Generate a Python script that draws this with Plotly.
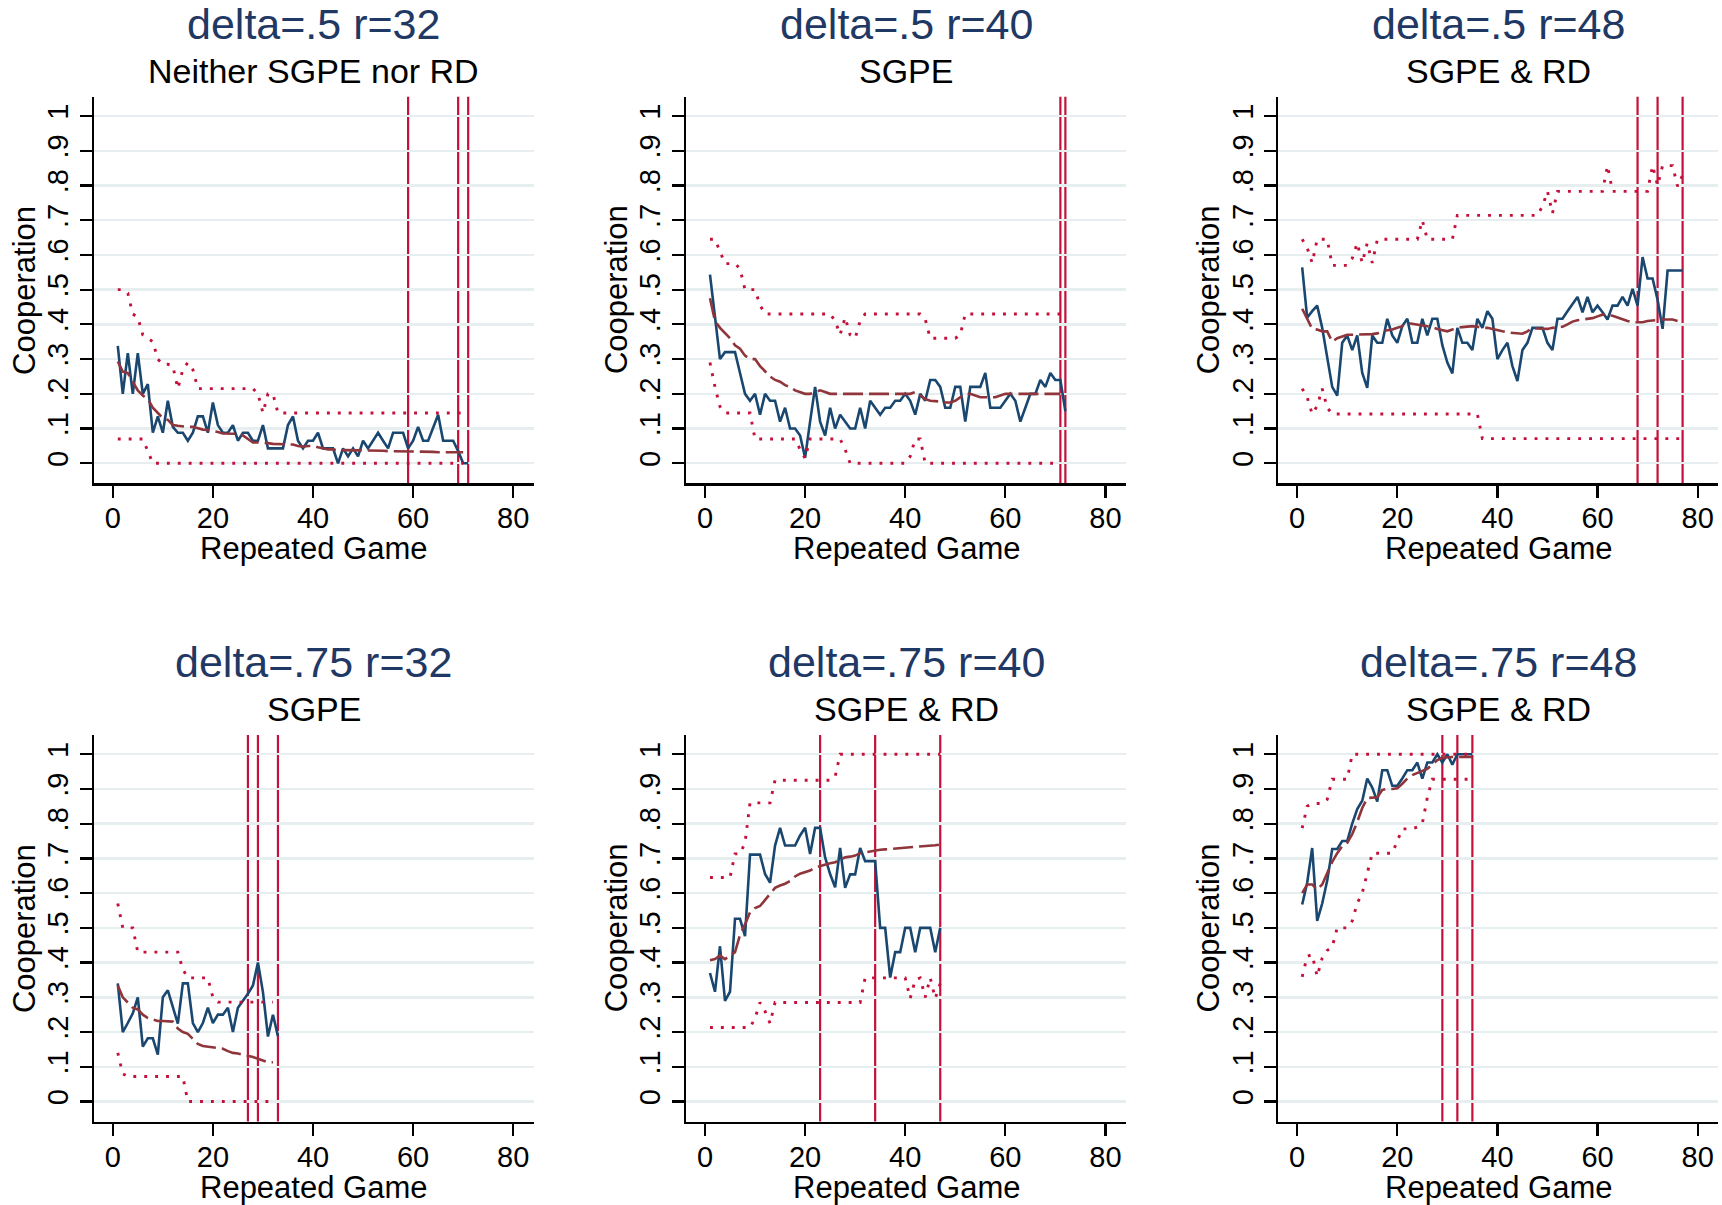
import plotly.graph_objects as go

# ---------------- data ----------------
titles = ["delta=.5 r=32", "delta=.5 r=40", "delta=.5 r=48",
          "delta=.75 r=32", "delta=.75 r=40", "delta=.75 r=48"]
subtitles = ["Neither SGPE nor RD", "SGPE", "SGPE & RD",
             "SGPE", "SGPE & RD", "SGPE & RD"]
y_tickvals = [0, 0.1, 0.2, 0.3, 0.4, 0.5, 0.6, 0.7, 0.8, 0.9, 1]
y_ticktext = ["0", ".1", ".2", ".3", ".4", ".5", ".6", ".7", ".8", ".9", "1"]
x_tickvals = [0, 20, 40, 60, 80]

# panel 1: delta=.5 r=32
p1_coop = [.338, .20, .317, .20, .317, .20, .228, .088, .135, .088,
           .18, .105, .088, .088, .065, .088, .135, .135, .088, .175,
           .11, .088, .088, .11, .065, .088, .088, .065, .065, .11,
           .043, .043, .043, .043, .11, .135, .065, .043, .065, .065,
           .088, .043, .043, .043, 0, .043, .02, .043, .02, .065,
           .043, .065, .088, .065, .043, .088, .088, .088, .043, .065,
           .105, .065, .065, .105, .14, .065, .065, .065, .035, 0, 0]
p1_fit = [.293, .264, .26, .235, .21, .195, .185, .16, .145, .13,
          .125, .11, .108, .106, .105, .105, .1, .097, .096, .094,
          .09, .086, .085, .085, .085, .08, .07, .06, .06, .06,
          .058, .056, .055, .055, .055, .054, .05, .048, .05, .05,
          .046, .042, .04, .04, .037, .038, .038, .038, .037, .037,
          .037, .037, .037, .036, .035, .035, .034, .034, .034, .034,
          .034, .034, .033, .033, .032, .032, .032, .032, .032, .032]
p1_upper = [.5, .5, .49, .43, .42, .37, .36, .35, .3, .285,
            .285, .28, .215, .27, .29, .27, .215, .215, .215, .215,
            .215, .215, .215, .215, .215, .215, .215, .215, .2, .145,
            .2, .2, .145, .145, .145, .145, .145, .145, .145, .145,
            .145, .145, .145, .145, .145, .145, .145, .145, .145, .145,
            .145, .145, .145, .145, .145, .145, .145, .145, .145, .145,
            .145, .145, .145, .145, .145, .145, .145, .145, .145, .145]
p1_lower = [.07, .07, .07, .07, .07, .07, .035, 0, 0, 0,
            0, 0, 0, 0, 0, 0, 0, 0, 0, 0,
            0, 0, 0, 0, 0, 0, 0, 0, 0, 0,
            0, 0, 0, 0, 0, 0, 0, 0, 0, 0,
            0, 0, 0, 0, 0, 0, 0, 0, 0, 0,
            0, 0, 0, 0, 0, 0, 0, 0, 0, 0,
            0, 0, 0, 0, 0, 0, 0, 0, 0, 0]
p1_vlines = [59, 69, 71]

# panel 2: delta=.5 r=40
p2_coop = [.543, .42, .30, .32, .32, .32, .26, .20, .18, .20,
           .14, .20, .18, .18, .12, .16, .10, .10, .08, .016,
           .12, .22, .12, .08, .16, .10, .14, .12, .10, .10,
           .16, .10, .18, .16, .14, .16, .16, .18, .18, .20,
           .18, .14, .20, .18, .24, .24, .22, .16, .16, .22,
           .22, .12, .22, .22, .22, .26, .16, .16, .16, .18,
           .20, .18, .12, .16, .20, .20, .24, .22, .26, .24,
           .24, .15]
p2_fit = [.475, .41, .39, .375, .36, .34, .33, .31, .3, .3,
          .28, .265, .25, .24, .235, .225, .22, .21, .205, .2,
          .2, .205, .21, .205, .2, .2, .2, .2, .2, .2,
          .2, .2, .2, .2, .2, .2, .2, .2, .2, .2,
          .2, .205, .195, .185, .18, .18, .178, .175, .175, .18,
          .19, .2, .2, .195, .19, .19, .19, .19, .195, .2,
          .2, .2, .2, .2, .2, .2, .2, .2, .2, .2, .2]
p2_upper = [.645, .645, .61, .575, .575, .575, .56, .5, .5, .5,
            .455, .43, .43, .43, .43, .43, .43, .43, .43, .43,
            .43, .43, .43, .43, .43, .41, .37, .42, .37, .36,
            .41, .43, .43, .43, .43, .43, .43, .43, .43, .43,
            .43, .43, .43, .415, .36, .36, .36, .36, .36, .36,
            .37, .43, .43, .43, .43, .43, .43, .43, .43, .43,
            .43, .43, .43, .43, .43, .43, .43, .43, .43, .43, .43]
p2_lower = [.29, .22, .163, .145, .145, .145, .145, .145, .145, .07,
            .07, .07, .07, .07, .07, .07, .07, .07, .04, .014,
            .07, .07, .07, .07, .07, .07, .07, .04, 0, 0,
            0, 0, 0, 0, 0, 0, 0, 0, 0, 0,
            .02, .07, .07, 0, 0, 0, 0, 0, 0, 0,
            0, 0, 0, 0, 0, 0, 0, 0, 0, 0,
            0, 0, 0, 0, 0, 0, 0, 0, 0, 0, 0]
p2_vlines = [71, 72]

# panel 3: delta=.5 r=48
p3_coop = [.564, .419, .438, .454, .39, .30, .22, .195, .347, .368,
           .326, .368, .26, .217, .368, .347, .347, .416, .368, .347,
           .395, .416, .347, .347, .416, .368, .416, .416, .34, .29,
           .259, .39, .347, .347, .326, .416, .39, .438, .416, .30,
           .326, .347, .28, .237, .326, .347, .39, .39, .39, .347,
           .326, .416, .416, .438, .457, .479, .435, .479, .435, .454,
           .435, .414, .454, .454, .479, .454, .502, .454, .594, .532,
           .532, .471, .387, .555, .555, .555, .555]
p3_fit = [.445, .414, .387, .385, .38, .38, .35, .36, .365, .37,
          .37, .37, .37, .37, .372, .374, .38, .383, .385, .39,
          .395, .404, .402, .4, .396, .395, .392, .387, .383, .38,
          .385, .39, .392, .394, .395, .393, .39, .39, .386, .383,
          .38, .377, .375, .374, .373, .38, .39, .388, .387, .387,
          .39, .392, .393, .4, .408, .412, .414, .416, .418, .423,
          .428, .427, .425, .42, .414, .41, .406, .405, .406, .41,
          .412, .413, .414, .414, .414, .41]
p3_upper = [.645, .62, .577, .645, .645, .645, .57, .57, .57, .57,
            .59, .634, .577, .634, .577, .643, .645, .645, .645, .645,
            .645, .645, .645, .645, .70, .645, .645, .645, .645, .645,
            .645, .714, .714, .714, .714, .714, .714, .714, .714, .714,
            .714, .714, .714, .714, .714, .714, .714, .714, .74, .783,
            .72, .783, .783, .783, .783, .783, .783, .783, .783, .783,
            .783, .857, .783, .783, .783, .783, .783, .783, .783, .783,
            .857, .8, .857, .857, .857, .797, .83]
p3_lower = [.215, .19, .142, .165, .215, .16, .142, .142, .142, .142,
            .142, .142, .142, .142, .142, .142, .142, .142, .142, .142,
            .142, .142, .142, .142, .142, .142, .142, .142, .142, .142,
            .142, .142, .142, .142, .142, .142, .071, .071, .071, .071,
            .071, .071, .071, .071, .071, .071, .071, .071, .071, .071,
            .071, .071, .071, .071, .071, .071, .071, .071, .071, .071,
            .071, .071, .071, .071, .071, .071, .071, .071, .071, .071,
            .071, .071, .071, .071, .071, .071, .071]
p3_vlines = [68, 72, 77]

# panel 4: delta=.75 r=32
p4_coop = [.34, .2, .226, .254, .3, .158, .182, .182, .135, .3,
           .32, .27, .224, .34, .34, .226, .2, .226, .27, .226,
           .25, .25, .27, .2, .27, .29, .31, .334, .4, .315,
           .187, .25, .188]
p4_fit = [.334, .3, .285, .27, .265, .25, .24, .235, .232, .232,
          .232, .23, .21, .2, .195, .18, .166, .16, .158, .156,
          .154, .152, .145, .14, .138, .135, .133, .128, .123, .118,
          .113, .113]
p4_upper = [.57, .5, .5, .5, .43, .43, .43, .43, .43, .43,
            .43, .43, .43, .38, .356, .356, .356, .356, .356, .3,
            .286, .286, .286, .286, .286, .286, .286, .286, .286, .286,
            .286, .286]
p4_lower = [.14, .08, .072, .072, .072, .072, .072, .072, .072, .072,
            .072, .072, .072, .072, 0, 0, 0, 0, 0, 0,
            0, 0, 0, 0, 0, 0, 0, 0, 0, 0,
            0, 0]
p4_vlines = [27, 29, 33]

# panel 5: delta=.75 r=40
p5_coop = [.37, .316, .447, .29, .316, .526, .526, .476, .711, .711,
           .711, .655, .63, .737, .788, .737, .737, .737, .766, .788,
           .713, .788, .788, .703, .655, .617, .73, .615, .654, .654,
           .73, .692, .692, .692, .5, .5, .357, .43, .43, .5,
           .5, .43, .5, .5, .5, .43, .5]
p5_fit = [.407, .41, .42, .41, .42, .43, .48, .51, .545, .557,
          .563, .58, .6, .615, .622, .627, .635, .648, .656, .66,
          .665, .674, .678, .684, .686, .689, .695, .703, .705, .708,
          .715, .718, .72, .722, .725, .726, .727, .729, .73, .731,
          .732, .734, .735, .736, .737, .738, .74]
p5_upper = [.645, .645, .645, .645, .645, .713, .713, .745, .86, .86,
            .86, .86, .86, .925, .925, .925, .925, .925, .925, .925,
            .925, .925, .925, .925, .925, .935, 1, 1, 1, 1,
            1, 1, 1, 1, 1, 1, 1, 1, 1, 1,
            1, 1, 1, 1, 1, 1, 1]
p5_lower = [.213, .213, .213, .213, .213, .213, .213, .213, .213, .24,
            .285, .26, .225, .285, .285, .285, .285, .285, .285, .285,
            .285, .285, .285, .285, .285, .285, .285, .285, .285, .285,
            .285, .356, .356, .356, .356, .356, .356, .356, .356, .356,
            .297, .35, .356, .3, .356, .297, .34]
p5_vlines = [23, 34, 47]

# panel 6: delta=.75 r=48
p6_coop = [.567, .63, .73, .52, .57, .636, .727, .727, .75, .75,
           .8, .842, .866, .93, .904, .864, .954, .954, .909, .909,
           .93, .954, .954, .976, .93, .976, .976, 1, .976, 1,
           .97, 1, 1, 1, 1]
p6_fit = [.6, .625, .625, .61, .625, .66, .69, .715, .735, .745,
          .77, .805, .845, .874, .874, .876, .897, .9, .9, .902,
          .915, .93, .94, .947, .952, .958, .97, .983, .99, .992,
          .992, .992, .992, .992, .992]
p6_upper = [.787, .85, .858, .858, .858, .87, .928, .928, .928, .928,
            1, 1, 1, 1, 1, 1, 1, 1, 1, 1,
            1, 1, 1, 1, 1, 1, 1, 1, 1, 1,
            1, 1, 1, 1, 1]
p6_lower = [.359, .418, .423, .36, .413, .435, .445, .5, .5, .5,
            .52, .571, .6, .657, .715, .715, .715, .715, .715, .75,
            .785, .785, .785, .79, .8, .875, .928, .928, .928, .928,
            .928, .928, .928, .928, .928]
p6_vlines = [29, 32, 35]

panels = [
    (p1_coop, p1_fit, p1_upper, p1_lower, p1_vlines),
    (p2_coop, p2_fit, p2_upper, p2_lower, p2_vlines),
    (p3_coop, p3_fit, p3_upper, p3_lower, p3_vlines),
    (p4_coop, p4_fit, p4_upper, p4_lower, p4_vlines),
    (p5_coop, p5_fit, p5_upper, p5_lower, p5_vlines),
    (p6_coop, p6_fit, p6_upper, p6_lower, p6_vlines),
]

# ---------------- styling ----------------
W, H = 1722, 1205
FONT = "Liberation Sans, Arial, Helvetica, sans-serif"
NAVY = "#1a476f"
MAROON = "#90353b"
CRIMSON = "#c4103a"
TITLE_C = "#1f3864"
GRID = "#e6eef0"

col_left = [93.9, 686.1, 1278.3]     # screen px
col_w = 440.1
row_top = [96.7, 734.9]              # screen px
row_h = 386.6
X_RANGE = [-3.77, 84.15]
Y_RANGE = [-0.0576, 1.0556]
px_per_x = col_w / (X_RANGE[1] - X_RANGE[0])

fig = go.Figure()
annotations = []
shapes = []


def fx(px):
    return px / W


def fy(py):
    return 1 - py / H


for i, (coop, fit, upper, lower, vlines) in enumerate(panels):
    r, c = divmod(i, 3)
    n = i + 1
    xa = "x" if n == 1 else f"x{n}"
    ya = "y" if n == 1 else f"y{n}"
    x0p = col_left[c]
    x1p = min(col_left[c] + col_w, W)
    xr = [X_RANGE[0], X_RANGE[0] + (x1p - x0p) / px_per_x]
    y0p, y1p = row_top[r], row_top[r] + row_h

    fig.add_trace(go.Scatter(x=list(range(1, len(coop) + 1)), y=coop, mode="lines",
                             line=dict(color=NAVY, width=2.6), xaxis=xa, yaxis=ya,
                             showlegend=False, hoverinfo="skip"))
    fig.add_trace(go.Scatter(x=list(range(1, len(fit) + 1)), y=fit, mode="lines",
                             line=dict(color=MAROON, width=2.6, dash="20px,6px"),
                             xaxis=xa, yaxis=ya, showlegend=False, hoverinfo="skip"))
    fig.add_trace(go.Scatter(x=list(range(1, len(upper) + 1)), y=upper, mode="lines",
                             line=dict(color=CRIMSON, width=2.9, dash="2.9px,8px"),
                             xaxis=xa, yaxis=ya, showlegend=False, hoverinfo="skip"))
    fig.add_trace(go.Scatter(x=list(range(1, len(lower) + 1)), y=lower, mode="lines",
                             line=dict(color=CRIMSON, width=2.9, dash="2.9px,8px"),
                             xaxis=xa, yaxis=ya, showlegend=False, hoverinfo="skip"))

    for v in vlines:
        shapes.append(dict(type="line", xref=xa, yref=f"{ya} domain", x0=v, x1=v,
                           y0=0, y1=1, line=dict(color=CRIMSON, width=2.2), layer="below"))

    axis_common = dict(showline=True, linecolor="black", linewidth=2.2, ticks="outside",
                       ticklen=12, tickwidth=2.2, tickcolor="black", zeroline=False,
                       tickfont=dict(family=FONT, size=29, color="black"))
    fig.layout[("xaxis" if n == 1 else f"xaxis{n}")] = dict(
        domain=[fx(x0p), min(1.0, fx(x1p))], range=xr, anchor=ya, tickvals=x_tickvals,
        showgrid=False, ticklabelstandoff=-4, **axis_common)
    fig.layout[("yaxis" if n == 1 else f"yaxis{n}")] = dict(
        domain=[fy(y1p), fy(y0p)], range=Y_RANGE, anchor=xa, tickvals=y_tickvals,
        ticktext=y_ticktext, tickangle=-90, showgrid=True, gridcolor=GRID, gridwidth=2.4,
        **axis_common)

    cx = fx(col_left[c] + col_w / 2)
    dy = 638.2 * r
    annotations.append(dict(text=titles[i], x=cx, y=fy(23.5 + dy), xref="paper", yref="paper",
                            showarrow=False, xanchor="center", yanchor="middle",
                            font=dict(family=FONT, size=43, color=TITLE_C)))
    annotations.append(dict(text=subtitles[i], x=cx, y=fy(71 + dy), xref="paper", yref="paper",
                            showarrow=False, xanchor="center", yanchor="middle",
                            font=dict(family=FONT, size=34, color="black")))
    annotations.append(dict(text="Repeated Game", x=cx, y=fy(549 + dy), xref="paper", yref="paper",
                            showarrow=False, xanchor="center", yanchor="middle",
                            font=dict(family=FONT, size=31, color="black")))
    annotations.append(dict(text="Cooperation", x=fx(x0p - 70), y=fy((y0p + y1p) / 2),
                            xref="paper", yref="paper", textangle=-90,
                            showarrow=False, xanchor="center", yanchor="middle",
                            font=dict(family=FONT, size=31, color="black")))

fig.update_layout(width=W, height=H, autosize=False,
                  margin=dict(l=0, r=0, t=0, b=0),
                  paper_bgcolor="white", plot_bgcolor="white",
                  annotations=annotations, shapes=shapes,
                  font=dict(family=FONT))

# remove the page's default body margin so the figure fills the window exactly
fig.write_html("out.html",
               config={"displayModeBar": False, "staticPlot": True},
               post_script="document.body.style.margin='0px';"
                           "document.body.style.overflow='hidden';")
